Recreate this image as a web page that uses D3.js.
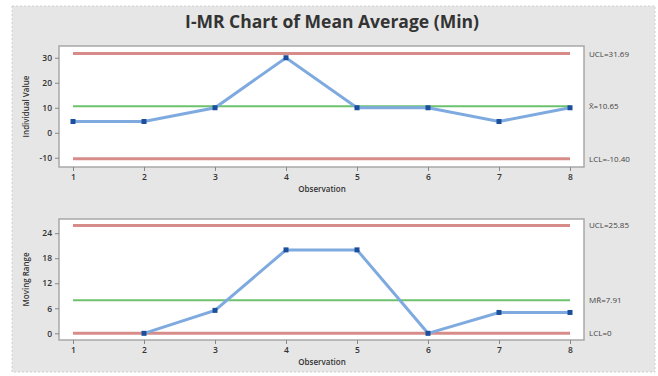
<!DOCTYPE html>
<html>
<head>
<meta charset="utf-8">
<script src="https://cdn.jsdelivr.net/npm/d3@7"></script>
<style>
  body { margin: 0; background: #fff; }
  svg { display: block; font-family: "Open Sans", "DejaVu Sans", sans-serif; }
</style>
</head>
<body>
<div id="chart"></div>
<script>
const observations = [1, 2, 3, 4, 5, 6, 7, 8];
const individualValues = [4.5, 4.5, 10, 30, 10, 10, 4.5, 10];
const movingRanges = [null, 0, 5.5, 20, 20, 0, 5, 5];

const iTicks = [-10, 0, 10, 20, 30];
const mrTicks = [0, 6, 12, 18, 24];

const iLimits = { ucl: 31.69, center: 10.65, lcl: -10.40 };
const mrLimits = { ucl: 25.85, center: 7.91, lcl: 0 };

const iLabels = ["UCL=31.69", "X\u0304=10.65", "LCL=-10.40"];
const mrLabels = ["UCL=25.85", "MR\u0304=7.91", "LCL=0"];

const width = 658, height = 376;

const svg = d3.select("#chart").append("svg")
    .attr("width", width)
    .attr("height", height);

// grey panel behind everything
svg.append("rect")
    .attr("x", 12).attr("y", 6)
    .attr("width", 643).attr("height", 366)
    .attr("fill", "#e6e6e6")
    .attr("stroke", "#d0d0d0")
    .attr("stroke-dasharray", "2,2");

svg.append("text")
    .attr("x", 332).attr("y", 28)
    .attr("text-anchor", "middle")
    .style("font-size", "17.5px")
    .style("font-weight", "bold")
    .attr("fill", "#333")
    .text("I-MR Chart of Mean Average (Min)");

function drawPanel(opts) {
    let box = opts.box;

    // obs 1 and 8 sit at x=73 and x=570 in the picture
    let x = d3.scaleLinear()
        .domain([1 - (73 - box.left) / 71, 8 + (box.right - 570) / 71])
        .range([box.left, box.right]);

    let y = d3.scaleLinear()
        .domain(opts.yDomain)
        .range([box.bottom, box.top]);

    let g = svg.append("g");

    g.append("rect")
        .attr("x", box.left).attr("y", box.top)
        .attr("width", box.right - box.left)
        .attr("height", box.bottom - box.top)
        .attr("fill", "#fff")
        .attr("stroke", "#a8a8a8")
        .attr("stroke-width", 1.5);

    let xAxis = d3.axisBottom(x)
        .tickValues(observations)
        .tickFormat(d3.format("d"))
        .tickSize(4)
        .tickSizeOuter(0);

    let yAxis = d3.axisLeft(y)
        .tickValues(opts.ticks)
        .tickFormat(d => String(d))
        .tickSize(4)
        .tickSizeOuter(0);

    let gx = g.append("g")
        .attr("transform", "translate(0," + box.bottom + ")")
        .call(xAxis);
    let gy = g.append("g")
        .attr("transform", "translate(" + box.left + ",0)")
        .call(yAxis);

    [gx, gy].forEach(a => {
        a.select(".domain").remove();
        a.selectAll("line").attr("stroke", "#888");
        a.selectAll("text")
            .attr("fill", "#333")
            .style("font-size", "8.5px")
            .style("font-weight", "600")
            .style("font-family", "\"Open Sans\", sans-serif");
    });

    g.append("text")
        .attr("x", 322).attr("y", box.bottom + 25)
        .attr("text-anchor", "middle")
        .style("font-size", "8px")
        .style("font-weight", "600")
        .attr("fill", "#333")
        .text("Observation");

    g.append("text")
        .attr("transform", "translate(29," + ((box.top + box.bottom) / 2) + ") rotate(-90)")
        .attr("text-anchor", "middle")
        .style("font-size", "8px")
        .style("font-weight", "600")
        .attr("fill", "#333")
        .text(opts.yTitle);

    // control limit lines
    let limits = [
        { v: opts.limits.ucl, c: "#d88c8a", w: 3 },
        { v: opts.limits.center, c: "#6cc26c", w: 2 },
        { v: opts.limits.lcl, c: "#d88c8a", w: 3 }
    ];
    g.selectAll(".limit")
        .data(limits)
        .enter().append("line")
        .attr("class", "limit")
        .attr("x1", x(1)).attr("x2", x(8))
        .attr("y1", d => y(d.v)).attr("y2", d => y(d.v))
        .attr("stroke", d => d.c)
        .attr("stroke-width", d => d.w);

    g.selectAll(".limit-label")
        .data(limits)
        .enter().append("text")
        .attr("class", "limit-label")
        .attr("x", box.right + 5)
        .attr("y", d => y(d.v) + 3)
        .style("font-size", "8px")
        .attr("fill", "#444")
        .text((d, i) => opts.labels[i]);

    let pts = observations
        .map((o, i) => ({ o: o, v: opts.values[i] }))
        .filter(d => d.v !== null);

    let line = d3.line()
        .x(d => x(d.o))
        .y(d => y(d.v));

    g.append("path")
        .datum(pts)
        .attr("fill", "none")
        .attr("stroke", "#7eaadf")
        .attr("stroke-width", 3)
        .attr("d", line);

    g.selectAll(".dot")
        .data(pts)
        .enter().append("rect")
        .attr("class", "dot")
        .attr("x", d => x(d.o) - 2.5)
        .attr("y", d => y(d.v) - 2.5)
        .attr("width", 5)
        .attr("height", 5)
        .attr("fill", "#1b4f9c");
}

drawPanel({
    box: { left: 59, right: 584, top: 46, bottom: 167 },
    yDomain: [-13.7, 34.7],
    ticks: iTicks,
    values: individualValues,
    limits: iLimits,
    labels: iLabels,
    yTitle: "Individual Value"
});

drawPanel({
    box: { left: 59, right: 584, top: 219, bottom: 340 },
    yDomain: [-1.6, 27.4],
    ticks: mrTicks,
    values: movingRanges,
    limits: mrLimits,
    labels: mrLabels,
    yTitle: "Moving Range"
});
</script>
</body>
</html>
